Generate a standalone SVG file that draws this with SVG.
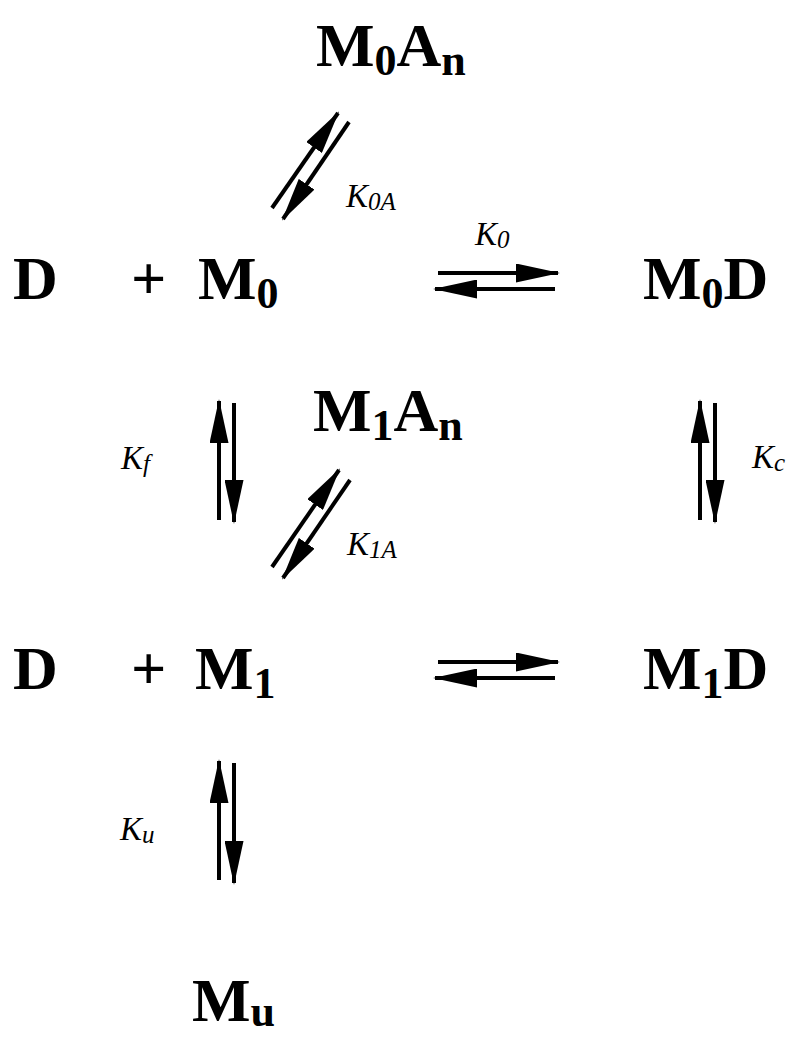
<svg xmlns="http://www.w3.org/2000/svg" width="799" height="1038" viewBox="0 0 799 1038">
<style>
.sp{font-family:"Liberation Serif","Times New Roman",serif;font-weight:bold;font-size:62px;fill:#000}
.lb{font-family:"Liberation Serif","Times New Roman",serif;font-style:italic;font-size:33px;fill:#000}
.ar{stroke:#000;stroke-width:4;fill:none;marker-end:url(#ah)}
</style>
<defs>
<marker id="ah" viewBox="0 0 44 19" refX="42" refY="9.5" markerWidth="44" markerHeight="19" markerUnits="userSpaceOnUse" orient="auto">
<path d="M0,0 L44,9.5 L0,19 Z" fill="#000"/>
</marker>
</defs>
<rect width="799" height="1038" fill="#fff"/>
<g id="n-M0An"><text class="sp" x="316" y="66">M<tspan font-size="44" dy="9">0</tspan><tspan dy="-9">A</tspan><tspan font-size="44" dy="9">n</tspan></text></g>
<g id="n-D-M0"><text class="sp" x="13" y="299">D</text><text class="sp" x="131" y="299">+</text><text class="sp" x="198" y="299">M<tspan font-size="44" dy="9">0</tspan></text></g>
<g id="n-M0D"><text class="sp" x="643" y="299">M<tspan font-size="44" dy="9">0</tspan><tspan dy="-9">D</tspan></text></g>
<g id="n-M1An"><text class="sp" x="313" y="431">M<tspan font-size="44" dy="9">1</tspan><tspan dy="-9">A</tspan><tspan font-size="44" dy="9">n</tspan></text></g>
<g id="n-D-M1"><text class="sp" x="13" y="689">D</text><text class="sp" x="131" y="689">+</text><text class="sp" x="195" y="689">M<tspan font-size="44" dy="9">1</tspan></text></g>
<g id="n-M1D"><text class="sp" x="643" y="689">M<tspan font-size="44" dy="9">1</tspan><tspan dy="-9">D</tspan></text></g>
<g id="n-Mu"><text class="sp" x="192" y="1021">M<tspan font-size="44" dy="5">u</tspan></text></g>
<g id="connectors">
<line class="ar" x1="272" y1="208" x2="338" y2="113"/>
<line class="ar" x1="349" y1="122" x2="283" y2="219"/>
<line class="ar" x1="438" y1="273" x2="558" y2="273"/>
<line class="ar" x1="555" y1="289" x2="435" y2="289"/>
<line class="ar" x1="219" y1="520" x2="219" y2="401"/>
<line class="ar" x1="234" y1="403" x2="234" y2="522"/>
<line class="ar" x1="700" y1="520" x2="700" y2="401"/>
<line class="ar" x1="715" y1="403" x2="715" y2="522"/>
<line class="ar" x1="272" y1="567" x2="339" y2="470"/>
<line class="ar" x1="350" y1="480" x2="283" y2="578"/>
<line class="ar" x1="438" y1="662" x2="558" y2="662"/>
<line class="ar" x1="555" y1="678" x2="435" y2="678"/>
<line class="ar" x1="219" y1="880" x2="219" y2="761"/>
<line class="ar" x1="234" y1="763" x2="234" y2="883"/>
<text class="lb" x="346" y="207">K<tspan font-size="25" dy="3">0A</tspan></text>
<text class="lb" x="475" y="245">K<tspan font-size="25" dy="3">0</tspan></text>
<text class="lb" x="121" y="469">K<tspan font-size="25" dy="3">f</tspan></text>
<text class="lb" x="347" y="555">K<tspan font-size="25" dy="3">1A</tspan></text>
<text class="lb" x="752" y="468">K<tspan font-size="25" dy="3">c</tspan></text>
<text class="lb" x="120" y="840">K<tspan font-size="25" dy="3">u</tspan></text>
</g>
</svg>
